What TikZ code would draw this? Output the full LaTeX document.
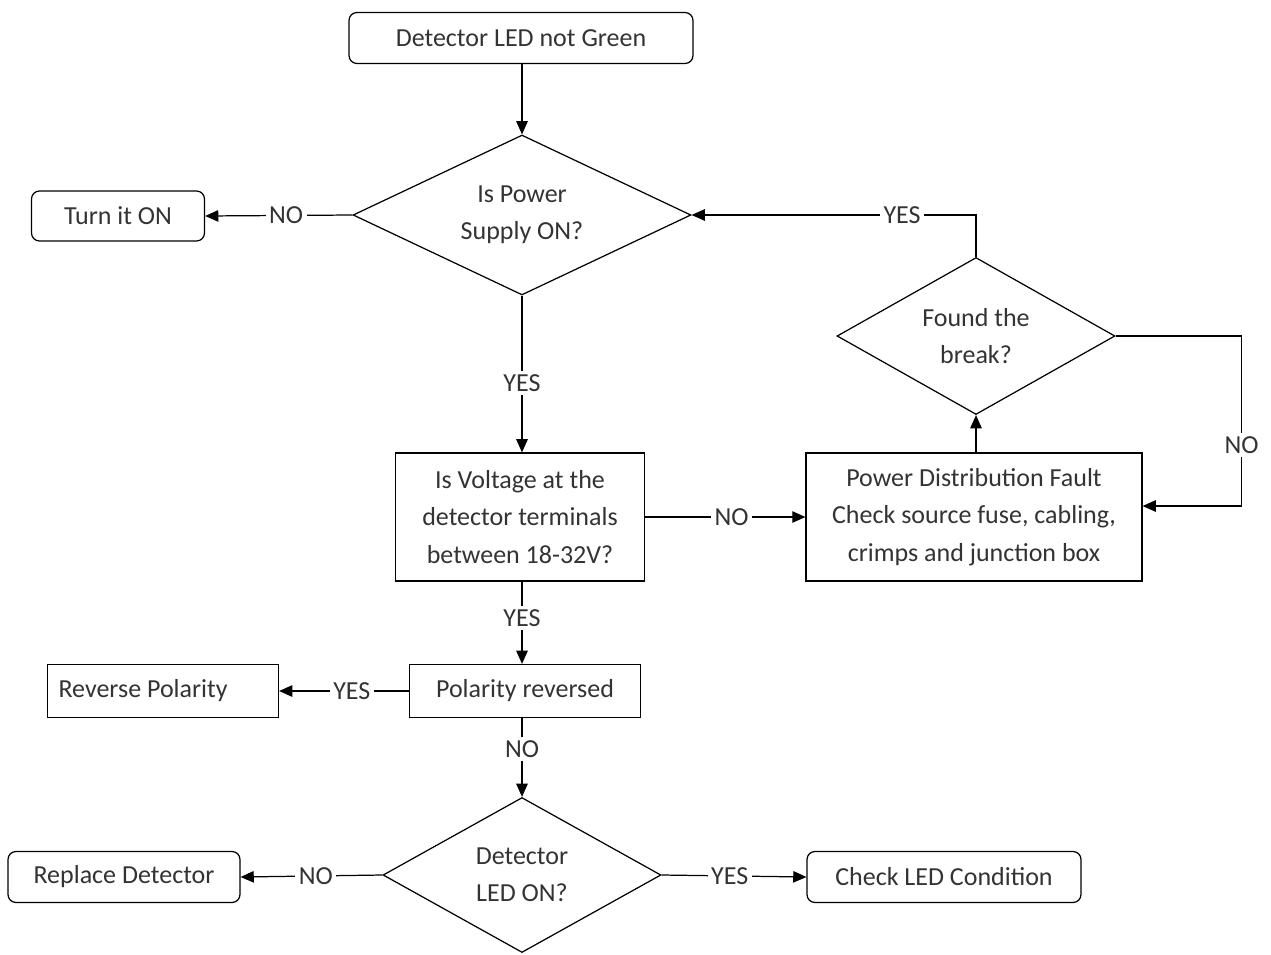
\documentclass[tikz,border=0pt]{standalone}
\usepackage{fontspec}
\setmainfont{Carlito}
\usetikzlibrary{shapes.geometric,arrows.meta,calc}
\tikzset{
	base/.style={draw=black, line width=0.7pt, text=black!80, font=\fontsize{14.8}{21.3}\selectfont, align=center, inner sep=0pt},
	roundbox/.style={base, rounded corners=4.5pt},
	plainbox/.style={base},
	decision/.style={base, diamond, aspect=2},
	lbl/.style={fill=white, text=black!80, font=\fontsize{14.8}{18}\selectfont, inner sep=2pt},
	flow/.style={line width=0.7pt, -{Triangle[length=7.5pt,width=6.5pt]}},
	link/.style={line width=0.7pt}
}

\begin{document}
\begin{tikzpicture}[x=0.02cm, y=-0.02cm]
		%%%%% START %%%%%
		\useasboundingbox (0,0) rectangle (1271,954);
		
		\node[roundbox, minimum width=6.88cm, minimum height=1.02cm] (start) at (521,38) {Detector LED not Green};
		\node[decision, minimum width=6.76cm, minimum height=3.2cm] (power) at (522,215) {Is Power\\Supply ON?};
		\node[roundbox, minimum width=3.46cm, minimum height=1.0cm] (turnon) at (118,216) {Turn it ON};
		
		\node[plainbox, minimum width=4.98cm, minimum height=2.56cm] (volt) at (520,517) {Is Voltage at the\\detector terminals\\between 18-32V?};
		\node[plainbox, minimum width=6.72cm, minimum height=2.56cm] (fault) at (974,517) {Power Distribution Fault\\Check source fuse, cabling,\\crimps and junction box};
		\node[decision, minimum width=5.56cm, minimum height=3.14cm] (found) at (976,336) {Found the\\break?};
		
		\node[plainbox, minimum width=4.62cm, minimum height=1.06cm] (polar) at (525,691) {Polarity reversed};
		\node[plainbox, minimum height=1.06cm, text width=4.18cm, inner xsep=0.22cm, align=flush left] (reverse) at (163,691) {Reverse Polarity};
		
		\node[decision, minimum width=5.56cm, minimum height=3.1cm] (ledon) at (522,875) {Detector\\LED ON?};
		\node[roundbox, minimum width=4.64cm, minimum height=1.02cm] (replace) at (124,877) {Replace Detector};
		\node[roundbox, minimum width=5.48cm, minimum height=1.02cm] (check) at (944,877) {Check LED Condition};
		
		% main line
		\draw[flow] (power.north |- start.south) -- (power.north);
		\draw[flow] (power.west) -- node[lbl, pos=0.45] {NO} (turnon.east);
		\draw[flow] (power.south) -- node[lbl, pos=0.56] {YES} (power.south |- volt.north);
		\draw[flow] (volt.east) -- node[lbl, pos=0.54] {NO} (fault.west);
		\draw[flow] (power.south |- volt.south) -- node[lbl, pos=0.44] {YES} (power.south |- polar.north);
		\draw[flow] (polar.west) -- node[lbl, pos=0.44] {YES} (reverse.east);
		\draw[flow] (ledon.north |- polar.south) -- node[lbl, pos=0.39] {NO} (ledon.north);
		\draw[flow] (ledon.west) -- node[lbl, pos=0.47] {NO} (replace.east);
		\draw[flow] (ledon.east) -- node[lbl, pos=0.47] {YES} (check.west);
		
		% loop back
		\draw[flow] (found.south |- fault.north) -- (found.south);
		\draw[flow] (found.north) |- node[lbl, pos=0.63] {YES} (power.east);
		\draw[flow] (found.east) -- ++(126,0) |- node[lbl, pos=0.32] {NO} ($(fault.east)+(0,-11)$);
		
		%%%%% END %%%%%
	\end{tikzpicture}
\end{document}
